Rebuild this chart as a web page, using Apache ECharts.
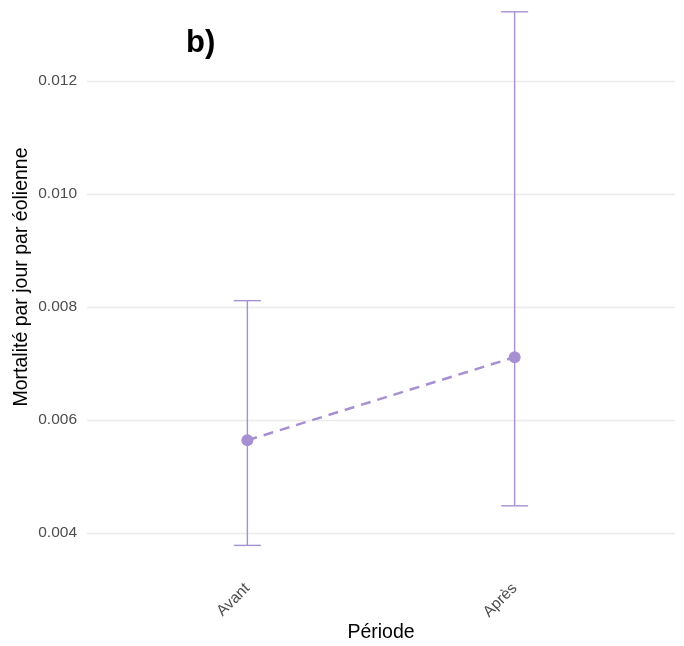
<!DOCTYPE html>
<html><head><meta charset="utf-8">
<script src="https://cdn.jsdelivr.net/npm/echarts@6/dist/echarts.min.js"></script>
<style>html,body{margin:0;padding:0;background:#fff}#c{width:684px;height:646px}</style>
</head><body><div id="c"></div>
<script>
const categories = ['Avant', 'Après'];
const mortality = [0.00564, 0.00711];
const lower = [0.00378, 0.00448];
const upper = [0.00811, 0.01322];
const yTickLabels = ['0.004', '0.006', '0.008', '0.010', '0.012'];

const COLOR = '#A690D1';
const FONT = 'Liberation Sans, Arial, sans-serif';

const pointData = categories.map((c, i) => [i + 1, mortality[i]]);
const barData = categories.map((c, i) => [i + 1, lower[i], upper[i]]);

const chart = echarts.init(document.getElementById('c'), null, {renderer: 'canvas'});
chart.setOption({
  backgroundColor: '#fff',
  animation: false,
  title: {
    text: 'b)', left: 181, top: 23,
    textStyle: {fontFamily: FONT, fontSize: 31, fontWeight: 'bold', color: '#000'}
  },
  grid: {left: 87, top: 0, width: 588, height: 649, containLabel: false},
  xAxis: {
    type: 'value', min: 0.4, max: 2.6, offset: -73,
    axisLine: {show: false}, axisTick: {show: false}, splitLine: {show: false},
    axisLabel: {
      rotate: 45, margin: 13, color: '#4D4D4D', fontSize: 15.5, fontFamily: FONT,
      showMinLabel: false, showMaxLabel: false,
      formatter: v => (Math.abs(v - Math.round(v)) < 1e-9 && categories[Math.round(v) - 1]) ? categories[Math.round(v) - 1] : ''
    }
  },
  yAxis: {
    type: 'value', min: 0.002, max: 0.013429, interval: 0.002,
    axisLine: {show: false}, axisTick: {show: false},
    splitLine: {lineStyle: {color: '#EBEBEB', width: 1.3}, showMinLine: false, showMaxLine: false},
    axisLabel: {
      margin: 10, color: '#4D4D4D', fontSize: 15.5, fontFamily: FONT,
      showMaxLabel: false,
      formatter: v => { const s = v.toFixed(3); return yTickLabels.includes(s) ? s : ''; }
    }
  },
  graphic: [
    {type: 'text', x: 22, y: 277, rotation: Math.PI / 2,
      style: {text: 'Mortalité par jour par éolienne', fontSize: 19.5, fontFamily: FONT, fill: '#000', align: 'center', verticalAlign: 'middle'}},
    {type: 'text', x: 381, y: 633,
      style: {text: 'Période', fontSize: 19.5, fontFamily: FONT, fill: '#000', align: 'center', verticalAlign: 'middle'}}
  ],
  series: [
    {
      type: 'custom', data: barData, z: 2,
      renderItem: (params, api) => {
        const x = api.value(0);
        const lo = api.coord([x, api.value(1)]);
        const hi = api.coord([x, api.value(2)]);
        const hw = 13.5;
        const st = {stroke: COLOR, lineWidth: 1.4, fill: null};
        return {type: 'group', children: [
          {type: 'line', shape: {x1: lo[0], y1: lo[1], x2: hi[0], y2: hi[1]}, style: st},
          {type: 'line', shape: {x1: lo[0] - hw, y1: lo[1], x2: lo[0] + hw, y2: lo[1]}, style: st},
          {type: 'line', shape: {x1: hi[0] - hw, y1: hi[1], x2: hi[0] + hw, y2: hi[1]}, style: st}
        ]};
      }
    },
    {
      type: 'line', data: pointData, z: 3,
      symbol: 'circle', symbolSize: 12,
      itemStyle: {color: COLOR},
      lineStyle: {color: COLOR, width: 2.5, type: [10, 7]}
    }
  ]
});
</script></body></html>
